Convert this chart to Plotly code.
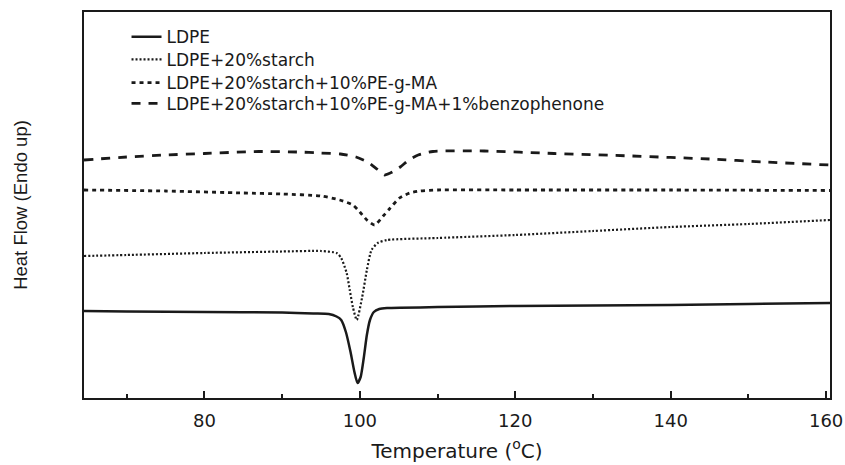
import plotly.graph_objects as go

# Temperature (°C) and heat flow (arbitrary units, endo up)
t_ldpe = [64.5, 70, 80, 90, 94, 96, 97, 97.6, 98.2, 98.8, 99.3, 99.7, 100.1, 100.5,
          100.9, 101.3, 101.8, 102.5, 103.5, 110, 120, 130, 140, 150, 160.5]
hf_ldpe = [8.7, 8.65, 8.6, 8.55, 8.45, 8.4, 8.15, 7.8, 6.6, 4.6, 2.6, 1.5, 2.1, 4.0,
           6.3, 7.8, 8.6, 8.9, 9.0, 9.1, 9.2, 9.25, 9.3, 9.4, 9.5]

t_starch = [64.5, 70, 80, 90, 95, 97, 97.6, 98.3, 98.7, 99.1, 99.6, 100.3, 100.9,
            101.5, 102.3, 103.5, 110, 120, 130, 140, 150, 160.5]
hf_starch = [14.2, 14.3, 14.5, 14.65, 14.7, 14.5, 14.0, 12.5, 10.8, 9.1, 7.8, 10.1, 12.8,
             14.8, 15.5, 15.8, 16.0, 16.3, 16.7, 17.1, 17.4, 17.8]

t_ma = [64.5, 75, 85, 90, 95, 97.4, 99.1, 100, 100.9, 101.9, 103, 103.9, 105.1,
        106.4, 107.7, 110, 120, 140, 160.5]
hf_ma = [20.8, 20.7, 20.5, 20.4, 20.2, 19.8, 19.3, 18.6, 17.8, 17.3, 18.2, 19.0, 20.0,
         20.5, 20.7, 20.8, 20.8, 20.8, 20.75]

t_bp = [64.5, 70, 75, 80, 87, 92, 95, 97.5, 99.5, 101, 102.2, 103.2, 104.2, 105.2,
        106.3, 107.5, 109.4, 116, 125, 135, 145, 152, 160.5]
hf_bp = [23.8, 24.1, 24.3, 24.45, 24.65, 24.6, 24.5, 24.4, 24.1, 23.6, 22.9, 22.3, 22.6, 23.1,
         23.8, 24.3, 24.65, 24.7, 24.45, 24.2, 23.9, 23.6, 23.3]

names = ["LDPE", "LDPE+20%starch", "LDPE+20%starch+10%PE-g-MA",
         "LDPE+20%starch+10%PE-g-MA+1%benzophenone"]

x_ticks = [80, 100, 120, 140, 160]

col = "#1a1a1a"
fig = go.Figure()
series = [(t_ldpe, hf_ldpe, "solid", 2.5),
          (t_starch, hf_starch, "2px,2px", 2.2),
          (t_ma, hf_ma, "4px,4px", 2.8),
          (t_bp, hf_bp, "9px,8px", 2.8)]
legend_ids = ["legend", "legend2", "legend3", "legend4"]
for (t, h, dash, w), n, lg in zip(series, names, legend_ids):
    fig.add_trace(go.Scatter(x=t, y=h, mode="lines", name=n, legend=lg,
                             line=dict(color=col, width=w, dash=dash,
                                       shape="spline", smoothing=0.6)))

row_y = [0.935, 0.876, 0.816, 0.762]
leg_common = dict(x=0.057, xanchor="left", yanchor="middle", bgcolor="rgba(0,0,0,0)",
                  font=dict(size=17, family="DejaVu Sans", color=col))
legends = {lg: dict(y=yy, **leg_common) for lg, yy in zip(legend_ids, row_y)}

fig.update_layout(
    width=845, height=465,
    margin=dict(l=84, r=15, t=12, b=67),
    paper_bgcolor="white", plot_bgcolor="white",
    font=dict(family="DejaVu Sans", color=col),
    showlegend=True,
    **legends,
    xaxis=dict(range=[64.5, 160.5], tickvals=x_ticks, ticktext=[str(v) for v in x_ticks],
               ticks="inside", ticklen=7, tickwidth=2, tickcolor=col,
               minor=dict(ticks="inside", ticklen=4, tickwidth=2, dtick=10, tick0=0, tickcolor=col),
               showline=True, linecolor=col, linewidth=2, mirror=True,
               showgrid=False, zeroline=False, automargin=False,
               ticklabelstandoff=5, ticklabeloverflow="allow",
               tickfont=dict(size=18, family="DejaVu Sans", color=col),
               title=dict(text="Temperature (<sup>o</sup>C)", standoff=14,
                          font=dict(size=20, family="DejaVu Sans", color=col))),
    yaxis=dict(range=[0, 38.6], showticklabels=False, ticks="",
               showline=True, linecolor=col, linewidth=2, mirror=True,
               showgrid=False, zeroline=False, automargin=False,
               title=dict(text="Heat Flow (Endo up)", standoff=50,
                          font=dict(size=18.5, family="Liberation Sans", color=col))),
)

fig.write_html("out.html",
               config={"displayModeBar": False},
               post_script="document.body.style.margin='0';document.body.style.overflow='hidden';")
